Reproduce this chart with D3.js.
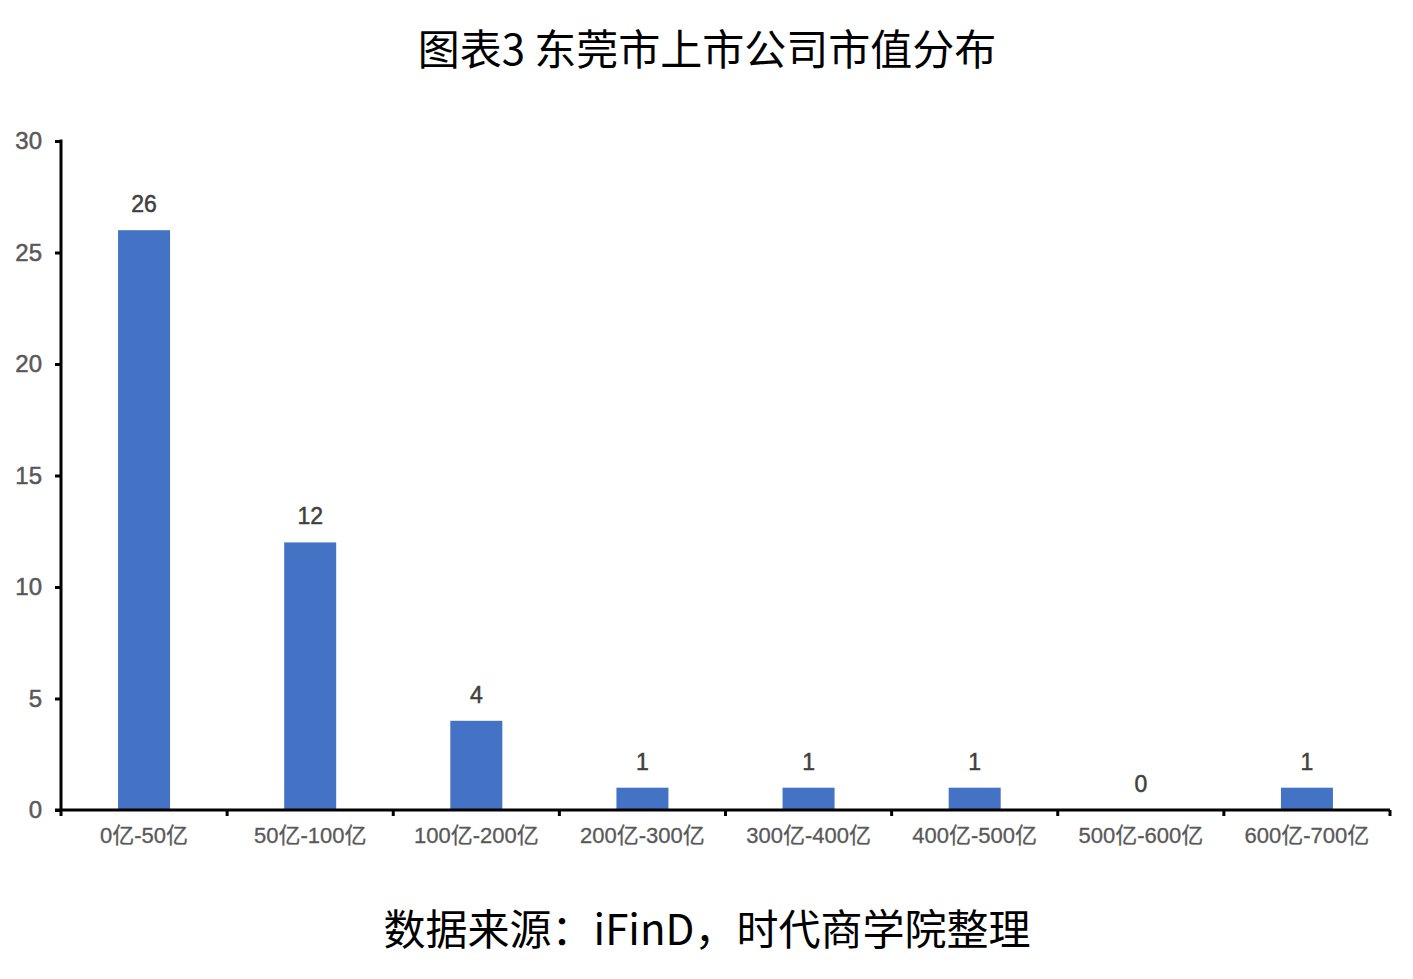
<!DOCTYPE html>
<html><head><meta charset="utf-8">
<script src="https://cdn.jsdelivr.net/npm/d3@7"></script>
<style>body{margin:0;background:#fff}</style>
</head><body>
<svg id="c" width="1413" height="979"></svg>
<script>
const categories = ["0亿-50亿","50亿-100亿","100亿-200亿","200亿-300亿","300亿-400亿","400亿-500亿","500亿-600亿","600亿-700亿"];
const values = [26,12,4,1,1,1,0,1];
const yTicks = [0,5,10,15,20,25,30];
const titleText = "图表3 东莞市上市公司市值分布";
const sourceText = "数据来源：iFinD，时代商学院整理";

(function(){
const svg = d3.select("#c");
const mL = 61, mR = 1390, mT = 141, mB = 810;
const x = d3.scaleBand().domain(categories).range([mL, mR]).paddingInner(0).paddingOuter(0);
const y = d3.scaleLinear().domain([0, 30]).range([mB, mT]);
const barW = 52;

svg.append("text").attr("x", 707).attr("y", 65).attr("text-anchor", "middle")
  .attr("font-family", "'Noto Sans CJK SC'").attr("font-size", 42).attr("fill", "#000")
  .text(titleText);
svg.append("text").attr("x", 707).attr("y", 945).attr("text-anchor", "middle")
  .attr("font-family", "'Noto Sans CJK SC'").attr("font-size", 42).attr("fill", "#000")
  .text(sourceText);

svg.append("g").selectAll("rect").data(values).join("rect")
  .attr("x", (d,i) => x(categories[i]) + x.bandwidth()/2 - barW/2)
  .attr("y", d => y(d)).attr("width", barW).attr("height", d => mB - y(d))
  .attr("fill", "#4472C4");

svg.append("g").selectAll("text").data(values).join("text")
  .attr("x", (d,i) => x(categories[i]) + x.bandwidth()/2)
  .attr("y", d => y(d) - 18).attr("text-anchor", "middle")
  .attr("font-family", "'Liberation Sans', Arial, sans-serif").attr("font-size", 23)
  .attr("fill", "#404040").attr("stroke", "#404040").attr("stroke-width", 0.5)
  .text(d => d);

const ya = svg.append("g").attr("transform", `translate(${mL},0)`)
  .call(d3.axisLeft(y).tickValues(yTicks).tickSize(6).tickPadding(13));
ya.select(".domain").attr("stroke", "#000").attr("stroke-width", 3).attr("d", `M0,${mT-1.5}V${mB}`);
ya.selectAll(".tick line").attr("stroke", "#000").attr("stroke-width", 3);
ya.selectAll(".tick text").attr("font-family", "'Liberation Sans', Arial, sans-serif")
  .attr("font-size", 24).attr("fill", "#595959").attr("stroke", "#595959").attr("stroke-width", 0.5);

const xa = svg.append("g").attr("transform", `translate(0,${mB})`)
  .call(d3.axisBottom(x).tickSize(0).tickPadding(17));
xa.select(".domain").attr("stroke", "#000").attr("stroke-width", 3).attr("d", `M${mL-6},0H${mR}`);
xa.selectAll(".tick text").attr("font-family", "'Liberation Sans', 'Noto Sans CJK SC', sans-serif")
  .attr("font-size", 22).attr("fill", "#595959").attr("stroke", "#595959").attr("stroke-width", 0.3);
const bounds = categories.map(c => x(c)).concat([mR]);
xa.append("g").selectAll("line").data(bounds).join("line")
  .attr("x1", d => d).attr("x2", d => d).attr("y1", 0).attr("y2", 6)
  .attr("stroke", "#000").attr("stroke-width", 3);
})();
</script>
</body></html>
